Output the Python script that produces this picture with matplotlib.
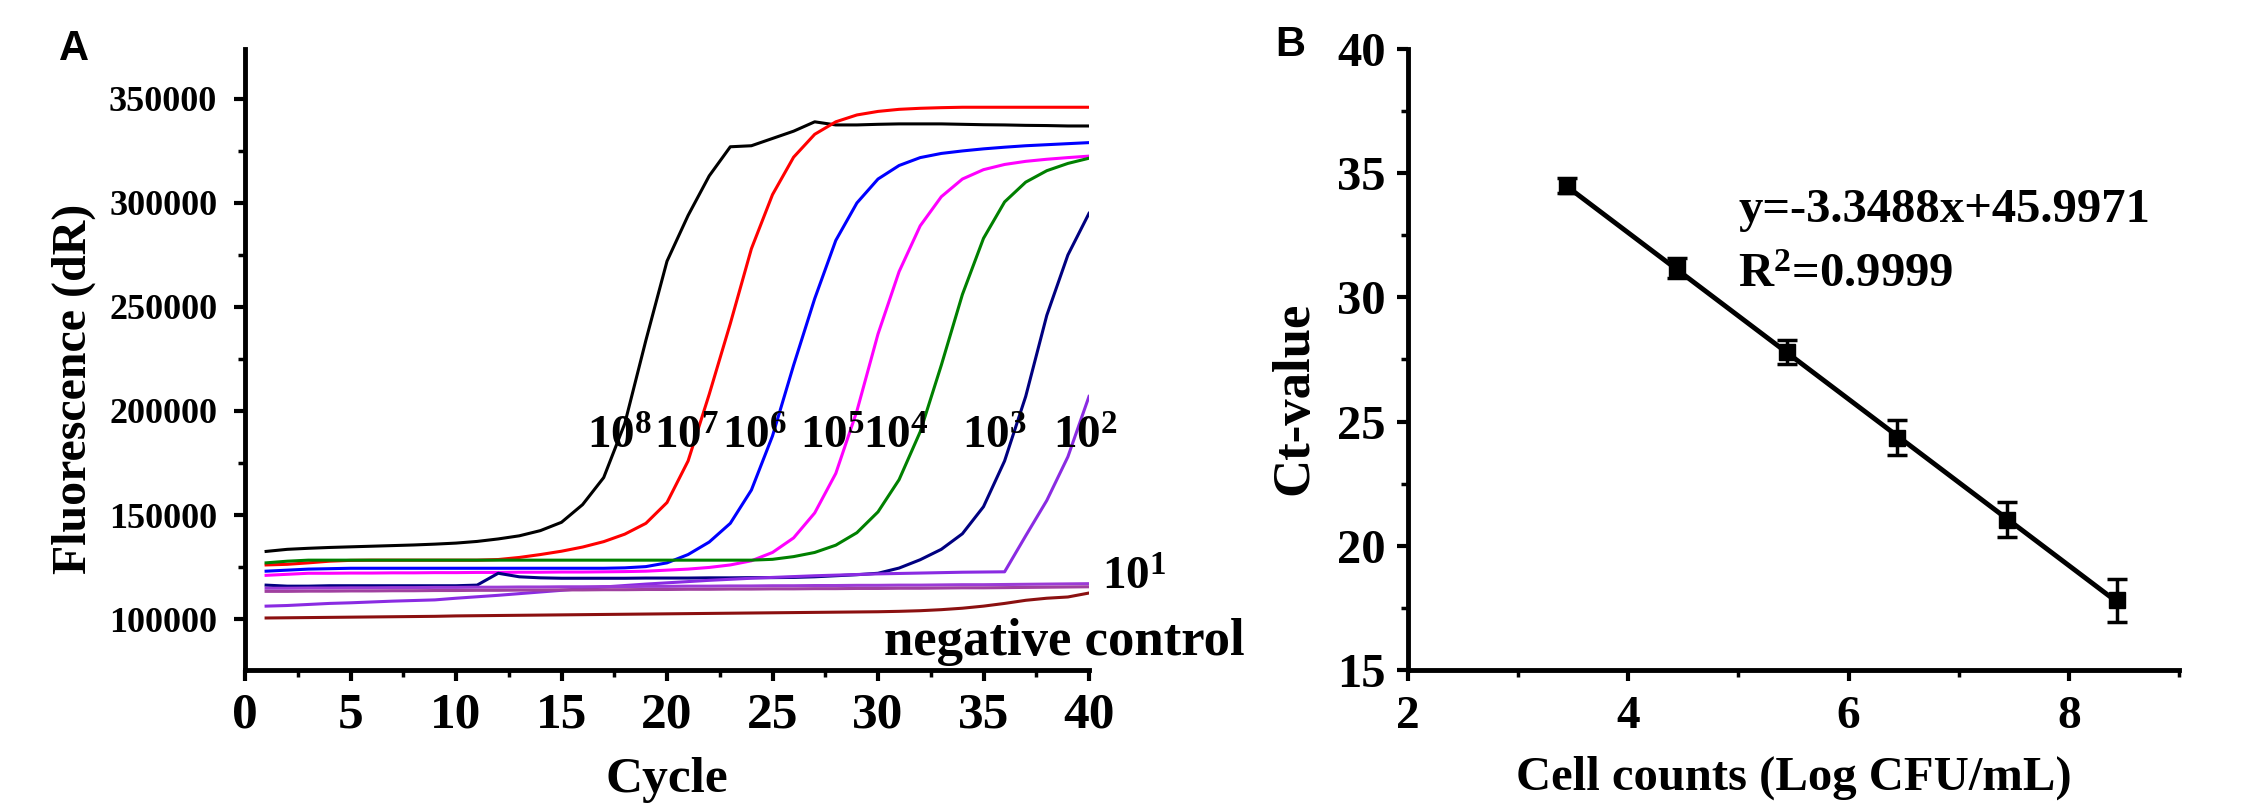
import numpy as np
import matplotlib
matplotlib.use("Agg")
import matplotlib.pyplot as plt
from matplotlib.ticker import MultipleLocator, FormatStrFormatter

plt.rcParams["font.family"] = ["Liberation Serif", "DejaVu Serif"]
plt.rcParams["font.weight"] = "bold"
plt.rcParams["mathtext.fontset"] = "custom"
plt.rcParams["mathtext.rm"] = "Liberation Serif:bold"
plt.rcParams["mathtext.bf"] = "Liberation Serif:bold"
plt.rcParams["mathtext.default"] = "rm"

# --- panel A: amplification curves, fluorescence in thousands of dR
cycles = np.arange(1, 41)

fl_1e8 = [132.5, 133.5, 134.0, 134.4, 134.7, 135.0, 135.3, 135.6, 136.0, 136.5,
          137.3, 138.5, 140.0, 142.5, 146.5, 155.0, 168.0, 194.0, 234.0, 272.0,
          294.0, 313.0, 327.0, 327.5, 331.0, 334.5, 339.0, 337.5, 337.5, 337.8,
          338.0, 338.0, 338.0, 337.8, 337.6, 337.5, 337.3, 337.2, 337.0, 337.0]
fl_1e7 = [126.0, 126.3, 127.0, 127.8, 128.2, 128.3, 128.3, 128.3, 128.3, 128.3,
          128.3, 128.6, 129.6, 131.0, 132.6, 134.6, 137.2, 140.8, 146.0, 156.0,
          176.0, 208.0, 242.0, 278.0, 304.0, 322.0, 333.0, 339.0, 342.3, 344.0,
          345.0, 345.5, 345.8, 346.0, 346.0, 346.0, 346.0, 346.0, 346.0, 346.0]
fl_1e6 = [123.0, 123.5, 124.0, 124.2, 124.4, 124.4, 124.4, 124.4, 124.4, 124.4,
          124.4, 124.4, 124.4, 124.4, 124.4, 124.4, 124.4, 124.6, 125.2, 127.0,
          131.0, 137.0, 146.0, 162.0, 188.0, 222.0, 254.0, 282.0, 300.0, 311.5,
          318.0, 321.8, 323.8, 325.0, 326.0, 326.8, 327.5, 328.0, 328.5, 329.0]
fl_1e5 = [121.0, 121.5, 122.0, 122.0, 122.1, 122.1, 122.2, 122.2, 122.3, 122.3,
          122.4, 122.4, 122.5, 122.5, 122.6, 122.6, 122.7, 122.8, 123.0, 123.5,
          124.0, 124.8, 126.0, 128.0, 132.0, 139.0, 151.0, 170.0, 200.0, 237.0,
          267.0, 289.0, 303.0, 311.5, 316.0, 318.5, 320.0, 321.0, 321.8, 322.5]
fl_1e4 = [127.0, 127.8, 128.3, 128.3, 128.3, 128.3, 128.3, 128.3, 128.3, 128.3,
          128.3, 128.3, 128.3, 128.3, 128.3, 128.3, 128.3, 128.3, 128.3, 128.3,
          128.3, 128.3, 128.3, 128.3, 128.7, 130.0, 132.0, 135.5, 141.5, 151.5,
          167.0, 190.0, 222.0, 256.0, 283.0, 300.5, 310.0, 315.5, 319.0, 321.5]
fl_1e3 = [116.3, 115.8, 115.8, 116.0, 116.0, 116.0, 116.0, 116.0, 116.0, 116.0,
          116.3, 122.0, 120.3, 119.8, 119.6, 119.6, 119.6, 119.6, 119.7, 119.7,
          119.7, 119.8, 119.8, 119.9, 119.9, 120.0, 120.3, 120.8, 121.3, 122.0,
          124.5, 128.5, 133.5, 141.0, 154.0, 176.0, 207.0, 246.0, 275.0, 295.0]
fl_1e2 = [106.2, 106.5, 107.0, 107.5, 107.8, 108.2, 108.6, 108.9, 109.2, 110.0,
          110.7, 111.4, 112.2, 113.0, 113.8, 114.6, 115.4, 116.1, 116.8, 117.4,
          118.0, 118.6, 119.1, 119.6, 120.0, 120.4, 120.8, 121.1, 121.4, 121.7,
          121.9, 122.1, 122.3, 122.5, 122.6, 122.7, 140.0, 157.0, 178.0, 207.0]
fl_1e1 = [114.8, 114.8, 114.9, 114.9, 115.0, 115.0, 115.1, 115.1, 115.2, 115.2,
          115.3, 115.3, 115.4, 115.4, 115.5, 115.5, 115.6, 115.6, 115.7, 115.7,
          115.8, 115.8, 115.9, 115.9, 116.0, 116.0, 116.1, 116.1, 116.2, 116.2,
          116.3, 116.3, 116.4, 116.5, 116.5, 116.6, 116.7, 116.8, 116.9, 117.0]
fl_1e1b = [113.3, 113.3, 113.4, 113.4, 113.5, 113.5, 113.6, 113.6, 113.7, 113.7,
           113.8, 113.8, 113.9, 113.9, 114.0, 114.0, 114.1, 114.1, 114.2, 114.2,
           114.3, 114.3, 114.4, 114.4, 114.5, 114.5, 114.6, 114.6, 114.7, 114.7,
           114.8, 114.8, 114.9, 115.0, 115.0, 115.1, 115.2, 115.3, 115.4, 115.5]
fl_neg = [100.5, 100.6, 100.7, 100.8, 100.9, 101.0, 101.1, 101.2, 101.3, 101.5,
          101.6, 101.7, 101.8, 101.9, 102.0, 102.1, 102.2, 102.3, 102.4, 102.5,
          102.6, 102.7, 102.8, 102.9, 103.0, 103.1, 103.2, 103.3, 103.4, 103.5,
          103.7, 104.0, 104.5, 105.2, 106.2, 107.5, 109.0, 110.0, 110.6, 112.5]

dilution_labels = ["10$^8$", "10$^7$", "10$^6$", "10$^5$", "10$^4$", "10$^3$", "10$^2$"]

# --- panel B: standard curve
log_cfu = [3.44, 4.44, 5.44, 6.44, 7.44, 8.44]
ct_mean = [34.5, 31.2, 27.8, 24.35, 21.05, 17.8]
ct_sd = [0.3, 0.4, 0.5, 0.7, 0.7, 0.85]
fit_slope = -3.3488
fit_intercept = 45.9971
fit_r2 = 0.9999

# ---------------------------------------------------------------- figure
W, H = 2263, 809
fig = plt.figure(figsize=(W / 100, H / 100), dpi=100)
axA = fig.add_axes([245 / W, 139 / H, 844 / W, 621 / H])
axB = fig.add_axes([1408 / W, 139 / H, 771 / W, 621 / H])

series = [
    (fl_1e8, "#000000"),
    (fl_1e7, "#ff0000"),
    (fl_1e6, "#0000ff"),
    (fl_1e5, "#ff00ff"),
    (fl_1e4, "#008000"),
    (fl_1e3, "#000080"),
    (fl_1e2, "#8a2be2"),
    (fl_1e1, "#9b3bd6"),
    (fl_1e1b, "#a0409f"),
    (fl_neg, "#8b1010"),
]
for vals, col in series:
    axA.plot(cycles, np.array(vals) * 1000, color=col, lw=2.2)

axA.set_xlim(0, 40)
axA.set_ylim(75500, 374000)
axA.xaxis.set_major_locator(MultipleLocator(5))
axA.xaxis.set_minor_locator(MultipleLocator(2.5))
axA.yaxis.set_major_locator(MultipleLocator(50000))
axA.yaxis.set_minor_locator(MultipleLocator(25000))
axA.yaxis.set_major_formatter(FormatStrFormatter("%d"))
axA.tick_params(axis="y", labelsize=26, pad=12)
axA.tick_params(axis="x", labelsize=37, pad=8)

# curve labels, left edges in cycles
label_x = [16.2, 19.4, 22.6, 26.3, 29.3, 34.0, 38.3]
for lx, txt in zip(label_x, dilution_labels):
    axA.text(lx, 182000, txt, fontsize=34, ha="left", va="baseline")
axA.text(40.6, 113900, "10$^1$", fontsize=34, ha="left", va="baseline")
axA.text(30.3, 82700, "negative control", fontsize=38, ha="left", va="baseline")

axA.set_xlabel("Cycle", fontsize=37, fontweight="bold", va="center")
axA.set_ylabel("Fluorescence (dR)", fontsize=34.5, fontweight="bold", va="center")
axA.xaxis.set_label_coords(0.5, -0.177)
axA.yaxis.set_label_coords(-0.203, 0.452)

# panel B
axB.errorbar(log_cfu, ct_mean, yerr=ct_sd, fmt="s", color="black", ms=12,
             capsize=7, capthick=2.5, elinewidth=2.5, zorder=3)
fit_x = np.array([log_cfu[0], log_cfu[-1]])
axB.plot(fit_x, fit_slope * fit_x + fit_intercept, color="black", lw=3.5)

axB.set_xlim(2, 9)
axB.set_ylim(15, 40)
axB.xaxis.set_major_locator(MultipleLocator(2))
axB.xaxis.set_minor_locator(MultipleLocator(1))
axB.yaxis.set_major_locator(MultipleLocator(5))
axB.yaxis.set_minor_locator(MultipleLocator(2.5))
axB.tick_params(axis="y", labelsize=35, pad=8)
axB.tick_params(axis="x", labelsize=34, pad=11)

axB.text(5.0, 33.5, f"y={fit_slope}x+{fit_intercept}", fontsize=35,
         ha="left", va="center")
axB.text(5.0, 30.9, f"R$^2$={fit_r2}", fontsize=35, ha="left", va="center")

axB.set_xlabel("Cell counts (Log CFU/mL)", fontsize=35, fontweight="bold", va="center")
axB.set_ylabel("Ct-value", fontsize=38, fontweight="bold", va="center")
axB.xaxis.set_label_coords(0.5, -0.174)
axB.yaxis.set_label_coords(-0.147, 0.438)

for ax in (axA, axB):
    ax.spines[["top", "right"]].set_visible(False)
    for s in ("left", "bottom"):
        ax.spines[s].set_linewidth(3.5)
    ax.tick_params(which="major", length=8, width=3, direction="out")
    ax.tick_params(which="minor", length=5, width=2.5, direction="out")

fig.text(74 / W, 1 - 49 / H, "A", fontsize=30, fontweight="bold",
         family="Liberation Sans", ha="center", va="center")
fig.text(1290 / W, 1 - 45 / H, "B", fontsize=30, fontweight="bold",
         family="Liberation Sans", ha="center", va="center")

fig.savefig("out.png", dpi=100)
